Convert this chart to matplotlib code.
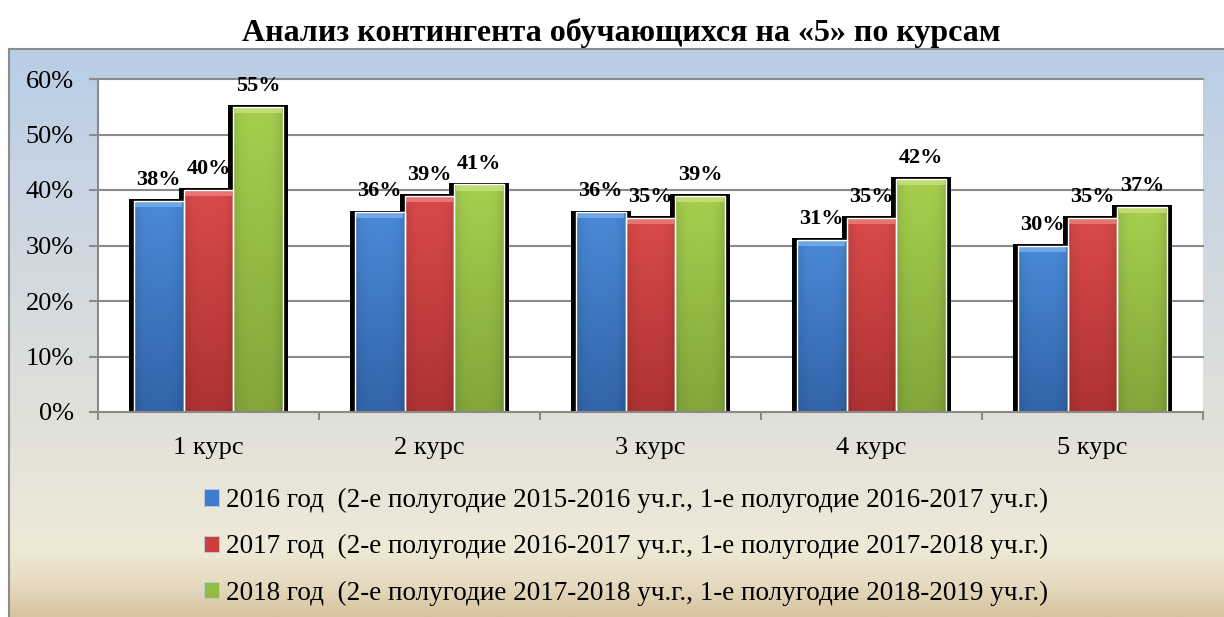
import numpy as np
import matplotlib
matplotlib.use('Agg')
import matplotlib.pyplot as plt
from matplotlib.colors import to_rgb
from matplotlib.patches import Patch

# data
courses = ['1 курс', '2 курс', '3 курс', '4 курс', '5 курс']
vals_2016 = [38, 36, 36, 31, 30]
vals_2017 = [40, 39, 35, 35, 35]
vals_2018 = [55, 41, 39, 42, 37]
series_labels = [
    '2016 год  (2-е полугодие 2015-2016 уч.г., 1-е полугодие 2016-2017 уч.г.)',
    '2017 год  (2-е полугодие 2016-2017 уч.г., 1-е полугодие 2017-2018 уч.г.)',
    '2018 год  (2-е полугодие 2017-2018 уч.г., 1-е полугодие 2018-2019 уч.г.)',
]
y_ticks = [0, 10, 20, 30, 40, 50, 60]
title = 'Анализ контингента обучающихся на «5» по курсам'

# colours per series: (top, bottom, bevel, legend)
styles = [
    ('#4a8ad8', '#3264a8', '#7ab0ec', '#3f7bcc'),
    ('#da4a4a', '#ae3232', '#ef8080', '#cc3e3e'),
    ('#a6cf4e', '#82a63a', '#c8e27e', '#94bc44'),
]

SERIF = 'Liberation Serif'
W, H = 1224, 617

fig = plt.figure(figsize=(W / 100, H / 100), dpi=100)

# chart area background (gradient) with border
bg = fig.add_axes([0, 0, 1, 1])
bg.set_zorder(-1)
bg.set_xlim(0, W)
bg.set_ylim(H, 0)
bg.axis('off')
stops = [(0.0, '#b9cde5'), (0.35, '#cfd8e1'), (0.65, '#e0e0d8'),
         (0.88, '#efe9d7'), (0.94, '#e6dbc2'), (1.0, '#d7c49f')]
n = 300
pos_s = np.array([s[0] for s in stops])
cols = np.array([to_rgb(s[1]) for s in stops])
tt = np.linspace(0, 1, n)
grad_bg = np.stack([np.interp(tt, pos_s, cols[:, k]) for k in range(3)], axis=1)
grad_bg = np.repeat(grad_bg[:, None, :], 2, axis=1)
bg.imshow(grad_bg, extent=[9, W, H, 49], aspect='auto', interpolation='bilinear')
bg.plot([9, W], [49, 49], color='#8c8c8c', lw=1.5)
bg.plot([9, 9], [49, H], color='#8c8c8c', lw=1.5)

fig.text(621 / W, 1 - 33 / H, title, ha='center', va='center',
         fontsize=23, fontweight='bold', family=SERIF)

# plot area
ax = fig.add_axes([98 / W, 1 - 412 / H, (1203 - 98) / W, (412 - 79) / H])
ax.set_facecolor('white')

x = np.arange(len(courses))
w = 0.225
series = [vals_2016, vals_2017, vals_2018]

for t in y_ticks[1:]:
    ax.axhline(t, color='#8a8a8a', lw=1.5, zorder=1, clip_on=False)

for i, (vals, st) in enumerate(zip(series, styles)):
    top, bot, bevel, _ = st
    pos = x + (i - 1) * w
    vals = np.array(vals)
    # black shadow behind bars
    ax.bar(pos, vals + 0.3, width=w + 0.045, color='black', zorder=2)
    bars = ax.bar(pos, vals, width=w, facecolor='none', edgecolor='white',
                  linewidth=1, zorder=4)
    # vertical gradient fill with darker sides
    rows = np.linspace(0, 1, 100)[:, None, None]
    u = np.linspace(0, 1, 16)[None, :, None]
    g = np.array(to_rgb(bot)) + (np.array(to_rgb(top)) - np.array(to_rgb(bot))) * rows
    g = g * (1 - 0.10 * np.abs(2 * u - 1) ** 4)
    g = np.clip(g, 0, 1)
    for b in bars:
        x0, bw, bh = b.get_x(), b.get_width(), b.get_height()
        im = ax.imshow(g, extent=[x0, x0 + bw, 0, bh], origin='lower',
                       aspect='auto', interpolation='bilinear', zorder=3)
        im.set_clip_path(b)
    ax.bar(pos, np.full(len(vals), 1.1), bottom=vals - 1.1, width=w * 0.94,
           color=bevel, zorder=3.5, alpha=0.8)
    for p, v in zip(pos, vals):
        ax.annotate(f'{v}%', (p, v), xytext=(0, 15), textcoords='offset points',
                    ha='center', va='center', fontsize=16, fontweight='bold',
                    family=SERIF, zorder=5)

ax.set_xlim(-0.5, len(courses) - 0.5)
ax.set_ylim(0, 60)
ax.set_xticks(x)
ax.set_xticklabels(courses, family=SERIF, fontsize=19)
ax.set_xticks(np.arange(-0.5, len(courses), 1), minor=True)
ax.tick_params(axis='x', which='major', length=0, pad=18)
ax.tick_params(axis='x', which='minor', length=6, width=1.5, color='#8a8a8a')
ax.set_yticks(y_ticks)
ax.set_yticklabels([f'{t}%' for t in y_ticks], family=SERIF, fontsize=19)
ax.tick_params(axis='y', length=6.5, width=1.5, color='#8a8a8a', pad=11)
for s in ['top', 'right']:
    ax.spines[s].set_visible(False)
for s in ['left', 'bottom']:
    ax.spines[s].set_color('#8a8a8a')
    ax.spines[s].set_linewidth(1.5)
    ax.spines[s].set_zorder(6)

handles = [Patch(facecolor=st[3], edgecolor='#bcd', linewidth=0.6) for st in styles]
fig.legend(handles, series_labels, loc='upper left',
           bbox_to_anchor=(204 / W, 1 - 488 / H), frameon=False,
           prop={'family': SERIF, 'size': 19.5}, handlelength=0.55,
           handleheight=0.55, handletextpad=0.25, labelspacing=0.78,
           borderpad=0, borderaxespad=0)

fig.savefig('out.png', dpi=100)
